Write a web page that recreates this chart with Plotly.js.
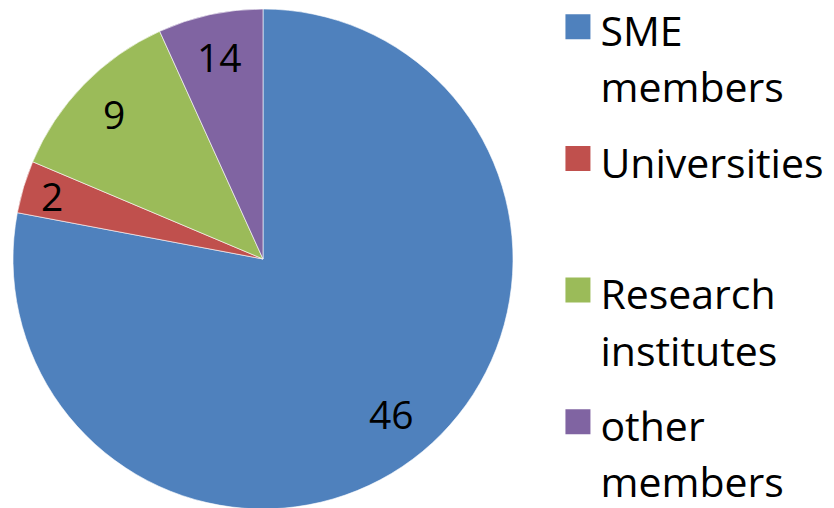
<!DOCTYPE html>
<html>
<head>
<meta charset="utf-8">
<script src="https://cdn.plot.ly/plotly-3.0.1.min.js"></script>
<style>
  html, body { margin: 0; padding: 0; overflow: hidden; background: #fff; }
  #chart { width: 834px; height: 550px; }
</style>
</head>
<body>
<div id="chart"></div>
<script>
// Categories (legend entries)
const categories = ["SME members", "Universities", "Research institutes", "other members"];
// Slice sizes as measured from the slice angles in the picture
const sliceValues = [46, 2, 7, 4];
// Data labels as printed on the slices
const sliceLabels = ["46", "2", "9", "14"];
const sliceColors = ["#4F81BD", "#C0504D", "#9BBB59", "#8064A2"];

const FONT = "'Open Sans', Lato, sans-serif";
const TEXT_PX = 41;      // glyph size of the legend text
const LABEL_PX = 39;     // glyph size of the slice labels

// legend labels: one word per line, every entry two lines tall;
// the second line is raised a little to tighten the line spacing inside an entry
const legendLabels = categories.map(function (c) {
  const w = c.split(" ");
  while (w.length < 2) w.push("\u00a0");
  return w.map(function (s, k) {
    const st = "font-size:" + TEXT_PX + "px" + (k > 0 ? ";baseline-shift:8px" : "");
    return '<span style="' + st + '">' + s + "</span>";
  }).join("<br>");
});

const W = 834, H = 550;
const margin = { l: 0, r: 0, t: 0, b: 0, autoexpand: false };
const domain = { x: [0, 0.6307], y: [0.07455, 0.98364] };

const trace = {
  type: "pie",
  labels: legendLabels,
  values: sliceValues,
  textinfo: "none",
  sort: false,
  direction: "clockwise",
  rotation: 0,
  marker: { colors: sliceColors, line: { color: "#ffffff", width: 0.6 } },
  domain: domain,
  hoverinfo: "none"
};

// slice labels placed near the outer end of each slice, derived from the data
const plotW = W - margin.l - margin.r, plotH = H - margin.t - margin.b;
const dW = (domain.x[1] - domain.x[0]) * plotW, dH = (domain.y[1] - domain.y[0]) * plotH;
const R = Math.min(dW, dH) / 2;
const cx = margin.l + (domain.x[0] + domain.x[1]) / 2 * plotW;
const cy = margin.t + (1 - (domain.y[0] + domain.y[1]) / 2) * plotH;
const total = sliceValues.reduce(function (a, b) { return a + b; }, 0);
let cum = 0;
const annotations = sliceValues.map(function (v, i) {
  const span = v / total * 360;
  const mid = (cum + v / 2) / total * 2 * Math.PI;
  cum += v;
  const dx = Math.sin(mid), dy = -Math.cos(mid);
  const w = sliceLabels[i].length * 0.57 * LABEL_PX, h = 0.72 * LABEL_PX;
  const half = Math.abs(dx) * w / 2 + Math.abs(dy) * h / 2;
  const gap = 24 * Math.min(1, span / 20);   // narrow slices push the label outward
  const r = R - gap - half;
  const px = cx + r * dx, py = cy + r * dy;
  return {
    text: sliceLabels[i],
    xref: "paper", yref: "paper",
    x: (px - margin.l) / plotW,
    y: 1 - (py - margin.t) / plotH,
    xanchor: "center", yanchor: "middle",
    showarrow: false,
    font: { family: FONT, size: LABEL_PX, color: "#000" }
  };
});

const layout = {
  width: W,
  height: H,
  margin: margin,
  paper_bgcolor: "#ffffff",
  showlegend: true,
  annotations: annotations,
  legend: {
    x: 0.666, xanchor: "left",
    y: 1, yanchor: "top",
    valign: "top",
    itemwidth: 35,
    font: { family: FONT, size: 49.5, color: "#000" },
    bgcolor: "rgba(0,0,0,0)",
    borderwidth: 0
  }
};

Plotly.newPlot("chart", [trace], layout, { staticPlot: true }).then(function () {
  // enlarge the legend colour squares to match the reference
  document.querySelectorAll("#chart .legendpie").forEach(function (p) {
    p.setAttribute("d", "M12.5,12.5H-12.5V-12.5H12.5Z");
    p.style.strokeWidth = "0";
  });
  // the reference legend starts a little higher than Plotly lets a legend sit
  const lg = document.querySelector("#chart g.legend");
  if (lg) {
    const m = /translate\(\s*([-\d.]+)[ ,]+([-\d.]+)\s*\)/.exec(lg.getAttribute("transform") || "");
    if (m) lg.setAttribute("transform", "translate(" + m[1] + "," + (parseFloat(m[2]) - 12) + ")");
  }
});
</script>
</body>
</html>
